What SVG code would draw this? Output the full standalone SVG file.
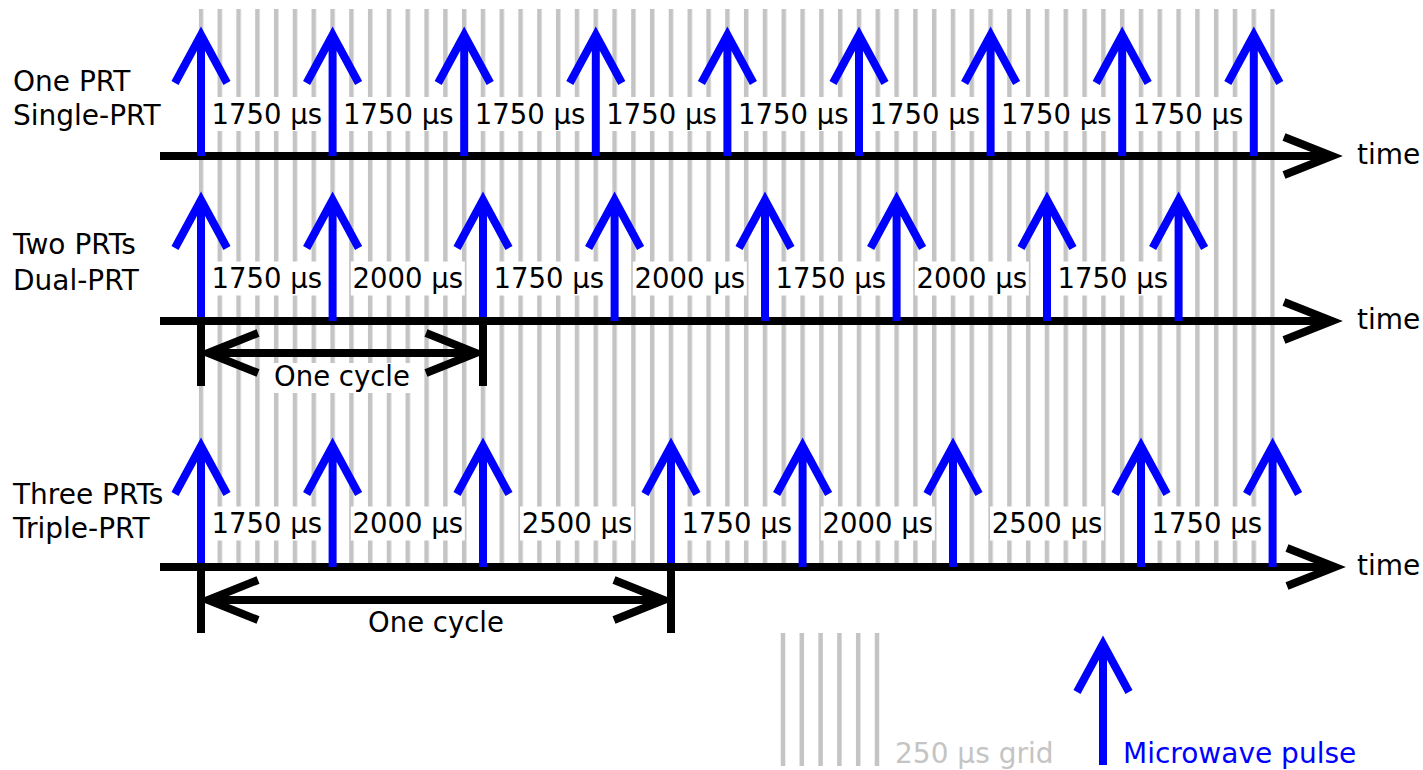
<svg xmlns="http://www.w3.org/2000/svg" width="1423" height="770" viewBox="0 0 1423 770">
<style>
text{font-family:"DejaVu Sans",Verdana,sans-serif;font-size:28px;fill:#000}
.c{text-anchor:middle;font-size:27.5px}
.bg{fill:#fff}
.ax{stroke:#000;stroke-width:8;fill:none;stroke-linejoin:miter;stroke-miterlimit:10}
.pu{stroke:#00f;stroke-width:8;fill:none;stroke-linejoin:miter;stroke-miterlimit:10}
.gl{stroke:#c4c4c4;stroke-width:4.5}
</style>
<defs>
<pattern id="gp" patternUnits="userSpaceOnUse" x="198.75" y="0" width="18.8" height="20"><rect width="4.5" height="20" fill="#c4c4c4"/></pattern>
<path id="pulse" class="pu" d="M0 0V-121M-26 -73L0 -121L26 -73"/>
<rect id="lb" class="bg" x="-57" y="-26.5" width="114" height="34"/>
</defs>
<rect width="1423" height="770" fill="#fff"/>
<g id="grid">
<rect x="198.75" y="9" width="1076.1" height="554" fill="url(#gp)"/>
</g>
<g id="row1">
<g id="row1-bg">
<use href="#lb" x="266.8" y="123.5"/><use href="#lb" x="398.4" y="123.5"/><use href="#lb" x="530" y="123.5"/><use href="#lb" x="661.6" y="123.5"/><use href="#lb" x="793.2" y="123.5"/><use href="#lb" x="924.8" y="123.5"/><use href="#lb" x="1056.4" y="123.5"/><use href="#lb" x="1188" y="123.5"/>
</g>
<text x="13" y="90.5">One PRT</text>
<text x="13" y="125">Single-PRT</text>
<path class="ax" d="M160 156H1332M1284 137L1332 156L1284 175"/>
<text x="1357" y="164">time</text>
<use href="#pulse" x="201" y="156"/><use href="#pulse" x="332.6" y="156"/><use href="#pulse" x="464.2" y="156"/><use href="#pulse" x="595.8" y="156"/><use href="#pulse" x="727.4" y="156"/><use href="#pulse" x="859" y="156"/><use href="#pulse" x="990.6" y="156"/><use href="#pulse" x="1122.2" y="156"/><use href="#pulse" x="1253.8" y="156"/>
<text class="c" x="266.8" y="123.5">1750 µs</text><text class="c" x="398.4" y="123.5">1750 µs</text><text class="c" x="530" y="123.5">1750 µs</text><text class="c" x="661.6" y="123.5">1750 µs</text><text class="c" x="793.2" y="123.5">1750 µs</text><text class="c" x="924.8" y="123.5">1750 µs</text><text class="c" x="1056.4" y="123.5">1750 µs</text><text class="c" x="1188" y="123.5">1750 µs</text>
</g>
<g id="row2">
<g id="row2-bg">
<use href="#lb" x="266.8" y="288"/><use href="#lb" x="407.8" y="288"/><use href="#lb" x="548.8" y="288"/><use href="#lb" x="689.8" y="288"/><use href="#lb" x="830.8" y="288"/><use href="#lb" x="971.8" y="288"/><use href="#lb" x="1112.8" y="288"/>
<rect class="bg" x="272" y="363" width="141" height="30"/>
</g>
<text x="13" y="254">Two PRTs</text>
<text x="13" y="289.5">Dual-PRT</text>
<path class="ax" d="M160 321H1332M1284 302L1332 321L1284 340"/>
<text x="1357" y="329">time</text>
<use href="#pulse" x="201" y="321"/><use href="#pulse" x="332.6" y="321"/><use href="#pulse" x="483" y="321"/><use href="#pulse" x="614.6" y="321"/><use href="#pulse" x="765" y="321"/><use href="#pulse" x="896.6" y="321"/><use href="#pulse" x="1047" y="321"/><use href="#pulse" x="1178.6" y="321"/>
<text class="c" x="266.8" y="288">1750 µs</text><text class="c" x="407.8" y="288">2000 µs</text><text class="c" x="548.8" y="288">1750 µs</text><text class="c" x="689.8" y="288">2000 µs</text><text class="c" x="830.8" y="288">1750 µs</text><text class="c" x="971.8" y="288">2000 µs</text><text class="c" x="1112.8" y="288">1750 µs</text>
<g id="cycle2">
<path class="ax" d="M201 317V386M483 317V386M208 353H476M258 333L208 353L258 373M426 333L476 353L426 373"/>
<text class="c" x="342" y="386">One cycle</text>
</g>
</g>
<g id="row3">
<g id="row3-bg">
<use href="#lb" x="266.8" y="533"/><use href="#lb" x="407.8" y="533"/><use href="#lb" x="577" y="533"/><use href="#lb" x="736.8" y="533"/><use href="#lb" x="877.8" y="533"/><use href="#lb" x="1047" y="533"/><use href="#lb" x="1206.8" y="533"/>
</g>
<text x="13" y="504">Three PRTs</text>
<text x="13" y="538">Triple-PRT</text>
<path class="ax" d="M160 567H1335M1287 548L1335 567L1287 586"/>
<text x="1357" y="575">time</text>
<use href="#pulse" x="201" y="567"/><use href="#pulse" x="332.6" y="567"/><use href="#pulse" x="483" y="567"/><use href="#pulse" x="671" y="567"/><use href="#pulse" x="802.6" y="567"/><use href="#pulse" x="953" y="567"/><use href="#pulse" x="1141" y="567"/><use href="#pulse" x="1272.6" y="567"/>
<text class="c" x="266.8" y="533">1750 µs</text><text class="c" x="407.8" y="533">2000 µs</text><text class="c" x="577" y="533">2500 µs</text><text class="c" x="736.8" y="533">1750 µs</text><text class="c" x="877.8" y="533">2000 µs</text><text class="c" x="1047" y="533">2500 µs</text><text class="c" x="1206.8" y="533">1750 µs</text>
<g id="cycle3">
<path class="ax" d="M201 563V633M671 563V633M208 600H664M258 580L208 600L258 620M614 580L664 600L614 620"/>
<text class="c" x="436" y="632">One cycle</text>
</g>
</g>
<g id="legend">
<g id="legend-grid">
<path class="gl" d="M783 633V766M801.8 633V766M820.6 633V766M839.4 633V766M858.2 633V766M877 633V766"/>
<text x="895" y="763" style="fill:#c4c4c4">250 µs grid</text>
</g>
<g id="legend-pulse">
<use href="#pulse" x="1103" y="765"/>
<text x="1123" y="763" style="fill:#00f">Microwave pulse</text>
</g>
</g>
</svg>
